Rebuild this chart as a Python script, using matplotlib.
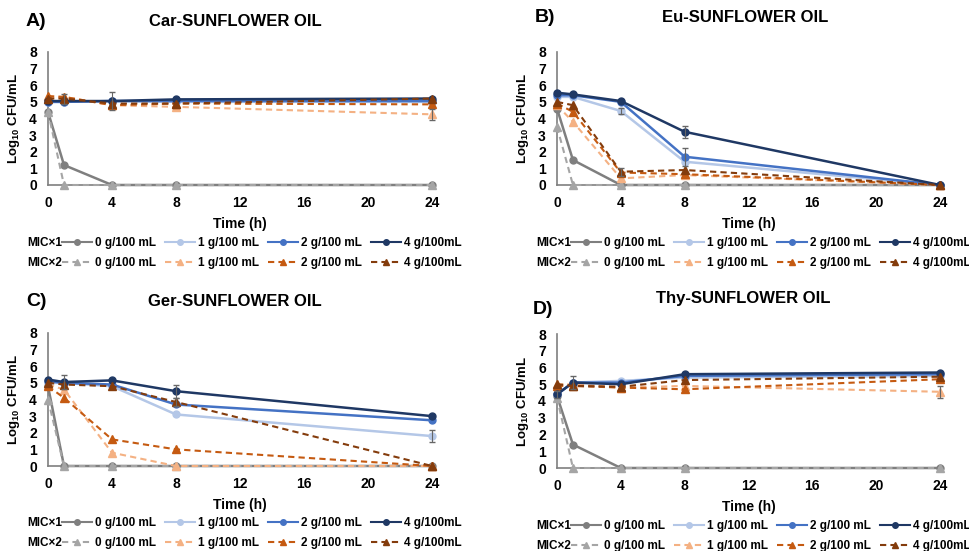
import numpy as np
import matplotlib.pyplot as plt
from matplotlib.lines import Line2D

plt.rcParams['font.family'] = ['Liberation Sans', 'DejaVu Sans']
plt.rcParams['mathtext.fontset'] = 'custom'
plt.rcParams['mathtext.rm'] = 'Liberation Sans:bold'
plt.rcParams['mathtext.bf'] = 'Liberation Sans:bold'

times = [0, 1, 4, 8, 24]
doses = ['0 g/100 mL', '1 g/100 mL', '2 g/100 mL', '4 g/100mL']

# MIC x1 (solid) and MIC x2 (dashed), one row per dose 0,1,2,4 g/100 mL
car_mic1 = [[4.4, 1.2, 0, 0, 0],
            [5.0, 5.0, 5.05, 5.0, 5.0],
            [5.0, 5.0, 5.05, 5.05, 5.05],
            [5.05, 5.05, 5.05, 5.15, 5.2]]
car_mic2 = [[4.4, 0, 0, 0, 0],
            [5.2, 5.3, 4.8, 4.7, 4.25],
            [5.35, 5.3, 4.8, 4.9, 4.85],
            [5.2, 5.2, 4.9, 4.9, 5.2]]

eu_mic1 = [[4.6, 1.5, 0, 0, 0],
           [5.3, 5.3, 4.45, 1.4, 0],
           [5.4, 5.4, 5.0, 1.7, 0],
           [5.55, 5.45, 5.05, 3.2, 0]]
eu_mic2 = [[3.5, 0, 0, 0, 0],
           [4.8, 3.8, 0.4, 0.6, 0],
           [4.9, 4.4, 0.75, 0.65, 0],
           [5.0, 4.8, 0.8, 0.9, 0]]

ger_mic1 = [[4.8, 0, 0, 0, 0],
            [5.0, 5.0, 4.8, 3.1, 1.8],
            [5.1, 5.0, 4.9, 3.7, 2.75],
            [5.2, 5.05, 5.15, 4.5, 3.0]]
ger_mic2 = [[4.0, 0, 0, 0, 0],
            [4.9, 4.6, 0.8, 0, 0],
            [4.8, 4.1, 1.6, 1.0, 0],
            [5.0, 4.9, 4.8, 3.85, 0]]

thy_mic1 = [[4.3, 1.4, 0, 0, 0],
            [4.4, 5.1, 5.2, 5.4, 5.5],
            [4.4, 5.1, 5.1, 5.5, 5.6],
            [4.4, 5.1, 5.0, 5.6, 5.7]]
thy_mic2 = [[4.2, 0, 0, 0, 0],
            [5.0, 5.0, 4.8, 4.9, 4.55],
            [4.9, 4.9, 4.8, 4.7, 5.3],
            [5.0, 4.9, 4.85, 5.25, 5.45]]

# a few visible error bars: (series, dose, time index, sd)
car_err = [(1, 1, 2, 0.55), (2, 1, 4, 0.35), (2, 3, 1, 0.3)]
eu_err = [(1, 1, 2, 0.2), (1, 2, 3, 0.55), (1, 3, 3, 0.35), (2, 3, 2, 0.25)]
ger_err = [(1, 3, 1, 0.4), (1, 3, 3, 0.4), (1, 1, 4, 0.35), (2, 3, 3, 0.25)]
thy_err = [(1, 3, 1, 0.4), (2, 1, 4, 0.35), (1, 3, 0, 0.2)]

col1 = ['#7f7f7f', '#b4c7e7', '#4472c4', '#1f3864']
col2 = ['#a5a5a5', '#f4b183', '#c55a11', '#843c0c']

panels = [
    ('A)', 'Car-SUNFLOWER OIL', car_mic1, car_mic2, car_err, [48, 52, 432, 185], (26, 21), 235, 21, 243),
    ('B)', 'Eu-SUNFLOWER OIL', eu_mic1, eu_mic2, eu_err, [557, 52, 940, 185], (535, 17), 745, 18, 243),
    ('C)', 'Ger-SUNFLOWER OIL', ger_mic1, ger_mic2, ger_err, [48, 333, 432, 466], (26, 302), 235, 301, 523),
    ('D)', 'Thy-SUNFLOWER OIL', thy_mic1, thy_mic2, thy_err, [557, 334, 940, 468], (533, 309), 743, 298, 526),
]

W, H = 969, 551
fig = plt.figure(figsize=(W / 100, H / 100), dpi=100)

for tag, title, m1, m2, errs, box, tagpos, tx, ty, legy in panels:
    x0, y0, x1, y1 = box
    ax = fig.add_axes([x0 / W, 1 - y1 / H, (x1 - x0) / W, (y1 - y0) / H])
    for i in range(4):
        ax.plot(times, m1[i], color=col1[i], lw=1.8, marker='o', ms=5, clip_on=False, zorder=3)
        ax.plot(times, m2[i], color=col2[i], lw=1.5, ls=(0, (3, 2)), marker='^', ms=5.5, clip_on=False, zorder=3)
    for s, i, t, e in errs:
        ys = m1[i] if s == 1 else m2[i]
        ax.errorbar(times[t], ys[t], yerr=e, color='#666666', lw=0.8, capsize=2.5, clip_on=False, zorder=4)
    ax.set_xlim(0, 24)
    ax.set_ylim(0, 8)
    ax.set_xticks([0, 4, 8, 12, 16, 20, 24])
    ax.set_yticks(range(9))
    for sp in ['top', 'right']:
        ax.spines[sp].set_visible(False)
    for sp in ['left', 'bottom']:
        ax.spines[sp].set_color('#7f7f7f')
        ax.spines[sp].set_linewidth(1.2)
    ax.tick_params(length=0, labelsize=10, pad=8)
    for lab in ax.get_xticklabels() + ax.get_yticklabels():
        lab.set_fontweight('bold')
    ax.set_xlabel('Time (h)', fontsize=10, fontweight='bold', labelpad=5)
    ax.set_ylabel('Log$_{10}$ CFU/mL', fontsize=9.5, fontweight='bold', labelpad=5)

    fig.text(tagpos[0] / W, 1 - tagpos[1] / H, tag, fontsize=14, fontweight='bold', va='center', ha='left')
    fig.text(tx / W, 1 - ty / H, title, fontsize=12, fontweight='bold', va='center', ha='center')

    # two-row legend: MIC x1 / MIC x2, one small legend per entry
    lx = x0 - 21
    for row, (lab, cols, ls, mk) in enumerate([('MIC×1', col1, '-', 'o'), ('MIC×2', col2, (0, (3, 2)), '^')]):
        yy = legy + row * 20
        fig.text(lx / W, 1 - yy / H, lab, fontsize=8.5, fontweight='bold', va='center', ha='left')
        for i in range(4):
            h = Line2D([], [], color=cols[i], ls=ls, lw=1.5, marker=mk, ms=4)
            leg = fig.legend([h], [doses[i]], loc='center left',
                             bbox_to_anchor=((x0 + 14 + i * 103) / W, 1 - yy / H), frameon=False,
                             prop={'size': 8.5, 'weight': 'bold'}, handlelength=2.5,
                             handletextpad=0.3, borderpad=0, borderaxespad=0)

fig.savefig('out.png', dpi=100)
